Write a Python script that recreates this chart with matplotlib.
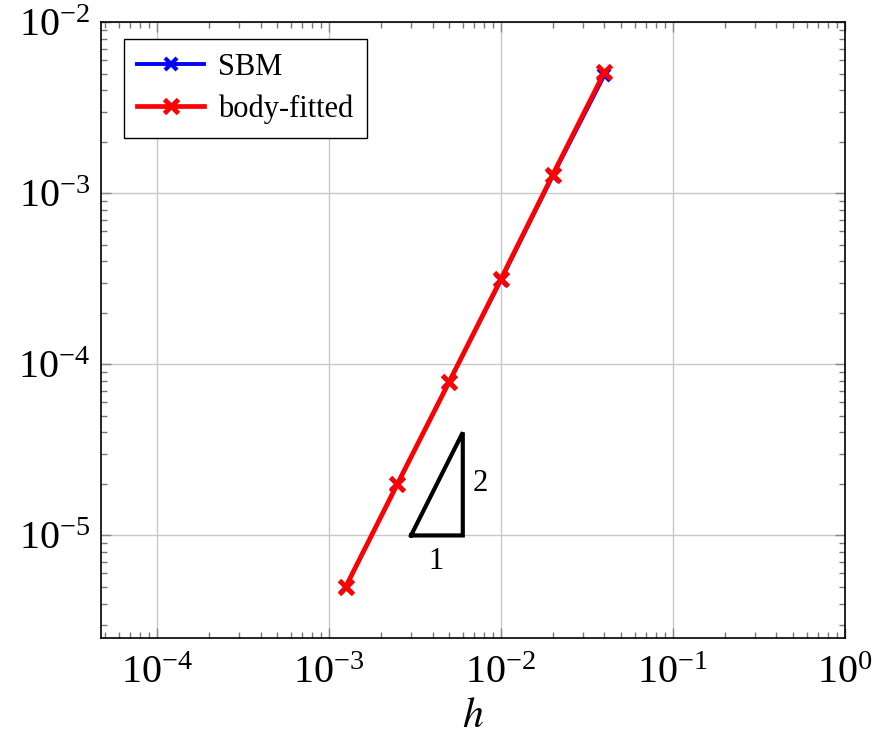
import numpy as np
import matplotlib
matplotlib.use('Agg')
import matplotlib.pyplot as plt

plt.rcParams['font.family'] = ['Liberation Serif', 'DejaVu Serif']
plt.rcParams['mathtext.fontset'] = 'stix'

h = [0.00125, 0.0025, 0.005, 0.01, 0.02, 0.04]
err_sbm = [5.0e-6, 2.0e-5, 7.9e-5, 3.1e-4, 1.26e-3, 4.9e-3]
err_fit = [5.0e-6, 2.0e-5, 7.9e-5, 3.15e-4, 1.28e-3, 5.1e-3]

tri_x = [3e-3, 6e-3, 6e-3, 3e-3]
tri_y = [1e-5, 1e-5, 4e-5, 1e-5]

fig = plt.figure(figsize=(8.8, 7.36), dpi=100)
ax = fig.add_axes([0.115, 0.133, 0.845, 0.837])

ax.plot(h, err_sbm, color='#0000ff', lw=2.8, marker='x', ms=9, mew=3, label='SBM')
ax.plot(h, err_fit, color='#ff0000', lw=3.4, marker='x', ms=10, mew=3.5, label='body-fitted')
ax.plot(tri_x, tri_y, color='black', lw=3, solid_joinstyle='miter')
ax.text(4.2e-3, 7.0e-6, '1', fontsize=22, ha='center', va='center')
ax.text(7.6e-3, 2.0e-5, '2', fontsize=22, ha='center', va='center')

ax.set_xscale('log')
ax.set_yscale('log')
ax.set_xlim(10**-4.325, 1)
ax.set_ylim(10**-5.6, 1e-2)
ax.set_xticks([1e-4, 1e-3, 1e-2, 1e-1, 1])
ax.set_yticks([1e-5, 1e-4, 1e-3, 1e-2])
ax.grid(True, which='major', color='#c8c8c8', lw=1)
ax.tick_params(which='both', direction='in', top=True, right=True, labelsize=29)
ax.tick_params(which='major', length=7, width=1, color='#888888')
ax.tick_params(which='minor', length=4.5, width=1, color='#777777')
ax.tick_params(axis='x', pad=12)
ax.tick_params(axis='y', pad=8)
for s in ax.spines.values():
    s.set_linewidth(1.2)
ax.set_xlabel('$h$', fontsize=30, labelpad=4)

leg = ax.legend(loc='upper left', bbox_to_anchor=(0.03, 0.972), borderaxespad=0,
                fontsize=22, fancybox=False, edgecolor='black', framealpha=1,
                handlelength=2.2, handletextpad=0.45, labelspacing=0.4, borderpad=0.45)
leg.get_frame().set_linewidth(1)

fig.savefig('out.png', dpi=100)
